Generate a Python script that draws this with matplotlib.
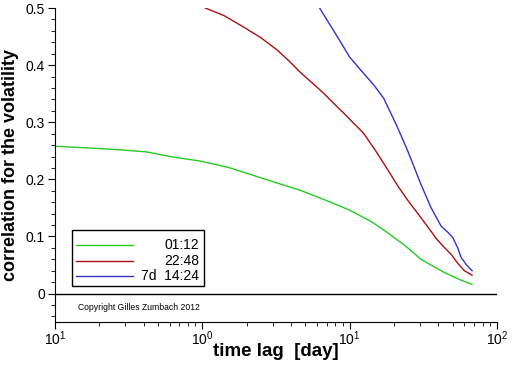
import numpy as np
import matplotlib
matplotlib.use("Agg")
import matplotlib.pyplot as plt
from matplotlib.ticker import FixedLocator, FixedFormatter, MultipleLocator

plt.rcParams["font.family"] = ["Liberation Sans", "DejaVu Sans"]

# data (time lag in days, correlation)
lag_0112 = [0.1, 0.2, 0.3, 0.42, 0.635, 0.97, 1.5, 2.1, 3.0, 4.6, 6.5, 10, 14, 18.2, 24, 30.4, 43.7, 55, 67.6]
corr_0112 = [0.258, 0.254, 0.251, 0.248, 0.239, 0.232, 0.221, 0.209, 0.196, 0.181, 0.166, 0.146, 0.126, 0.106,
             0.083, 0.060, 0.037, 0.025, 0.016]

lag_2248 = [1.05, 1.4, 1.9, 2.5, 3.24, 4.0, 4.6, 5.5, 6.65, 8.0, 9.1, 10.2, 12.4, 15, 18.2, 21, 24.8, 29, 34,
            39, 43.7, 49, 54, 60, 67.6]
corr_2248 = [0.50, 0.487, 0.467, 0.448, 0.426, 0.404, 0.388, 0.370, 0.351, 0.330, 0.316, 0.303, 0.281, 0.250,
             0.216, 0.190, 0.163, 0.140, 0.116, 0.095, 0.081, 0.068, 0.053, 0.040, 0.032]

lag_7d = [6.25, 7.5, 8.7, 10, 12, 14.5, 17, 20.5, 24, 26, 30, 35.5, 41.7, 46, 50, 54, 57, 62, 67.6]
corr_7d = [0.50, 0.467, 0.440, 0.414, 0.390, 0.366, 0.342, 0.298, 0.258, 0.236, 0.195, 0.151, 0.118, 0.108,
           0.098, 0.080, 0.063, 0.050, 0.040]

labels = ["01:12", "22:48", "7d  14:24"]
colors = ["#22cc22", "#aa1111", "#3333cc"]
series = [(lag_0112, corr_0112), (lag_2248, corr_2248), (lag_7d, corr_7d)]

fig = plt.figure(figsize=(5.12, 3.66), dpi=100)
ax = fig.add_axes([0.107, 0.12, 0.864, 0.858])

for (x, y), c in zip(series, colors):
    ax.plot(x, y, color=c, lw=1.0)

ax.axhline(0, color="black", lw=1.0)

ax.set_xscale("log")
ax.set_xlim(0.1, 100)
ax.set_ylim(-0.05, 0.5)

ax.spines["top"].set_visible(False)
ax.spines["right"].set_visible(False)

ax.xaxis.set_major_locator(FixedLocator([0.1, 1, 10, 100]))
ax.xaxis.set_major_formatter(FixedFormatter(["$\\mathregular{10^{1}}$", "$\\mathregular{10^{0}}$",
                                             "$\\mathregular{10^{1}}$", "$\\mathregular{10^{2}}$"]))
ax.set_yticks([0, 0.1, 0.2, 0.3, 0.4, 0.5])
ax.set_yticklabels(["0", "0.1", "0.2", "0.3", "0.4", "0.5"])
ax.yaxis.set_minor_locator(MultipleLocator(0.02))
ax.tick_params(which="major", length=5, labelsize=10, pad=2)
ax.tick_params(axis="x", which="major", pad=0)
ax.tick_params(which="minor", length=3)

ax.set_xlabel("time lag  [day]", fontsize=13.5, fontweight="bold", labelpad=-3)
ax.set_ylabel("correlation for the volatility", fontsize=13, fontweight="bold", labelpad=5)

# legend box drawn by hand so labels can be right aligned
ax.add_patch(plt.Rectangle((0.038, 0.115), 0.299, 0.178, transform=ax.transAxes,
                           fill=False, edgecolor="black", lw=1.0))
for i, (lab, c) in enumerate(zip(labels, colors)):
    yy = 0.245 - i * 0.0495
    ax.plot([0.0475, 0.176], [yy, yy], color=c, lw=1.0, transform=ax.transAxes)
    ax.text(0.327, yy, lab, ha="right", va="center", fontsize=10, transform=ax.transAxes)

ax.text(0.052, 0.045, "Copyright Gilles Zumbach 2012", fontsize=6.2,
        va="center", transform=ax.transAxes)

fig.savefig("out.png", dpi=100)
